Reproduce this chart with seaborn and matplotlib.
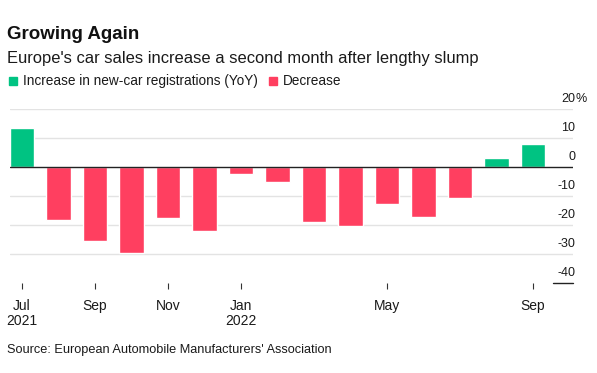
import matplotlib
matplotlib.use("Agg")
import matplotlib.pyplot as plt
from matplotlib.patches import Rectangle
import pandas as pd
import seaborn as sns

# YoY change in EU new-car registrations, Jul 2021 - Sep 2022
months = ["2021-07", "2021-08", "2021-09", "2021-10", "2021-11", "2021-12",
          "2022-01", "2022-02", "2022-03", "2022-04", "2022-05", "2022-06",
          "2022-07", "2022-08", "2022-09"]
values = [13.4, -18.2, -25.3, -29.4, -17.6, -21.9, -2.3, -5.2,
          -19.0, -20.1, -12.6, -17.0, -10.6, 3.2, 8.0]
tick_pos = [0, 2, 4, 6, 10, 14]
tick_labels = ["Jul\n2021", "Sep", "Nov", "Jan\n2022", "May", "Sep"]
y_grid = [20, 10, -10, -20, -30]
y_labels = [20, 10, 0, -10, -20, -30, -40]

GREEN = "#00c382"
RED = "#ff3f60"
TXT = "#1a1a1a"

df = pd.DataFrame({"month": months, "value": values})
df["sign"] = ["up" if v >= 0 else "down" for v in df["value"]]

sns.set_style("white")
plt.rcParams["font.family"] = ["Liberation Sans", "DejaVu Sans"]

W, H = 597, 373
fig = plt.figure(figsize=(W / 100, H / 100), dpi=100)
ax = fig.add_axes([10 / W, 1 - 283.3 / H, 563 / W, 174 / H])

sns.barplot(data=df, x="month", y="value", hue="sign",
            palette={"up": GREEN, "down": RED}, dodge=False,
            width=0.67, legend=False, ax=ax, saturation=1)

for v in y_grid:
    ax.axhline(v, color="#e3e3e3", lw=1, zorder=0)
ax.axhline(0, color="#222222", lw=1, zorder=3)
ax.axhline(-40, xmin=(553 - 10) / 563, xmax=1.0, color="#222222", lw=1,
           clip_on=False)

ax.set_xlim(-0.33, 15.1)
ax.set_ylim(-40, 20)
ax.set_yticks([])
ax.set_xticks(tick_pos)
ax.set_xticklabels(tick_labels, fontsize=10, color=TXT, linespacing=1.15)
ax.tick_params(axis="x", length=4, width=0.8, color="#333333", pad=7,
               direction="out", bottom=True)
ax.set_xlabel("")
ax.set_ylabel("")
for s in ax.spines.values():
    s.set_visible(False)

ytr = ax.get_yaxis_transform()
for v in y_labels:
    ax.text(1.0036, v + 2.6, str(v), transform=ytr, ha="right",
            va="baseline", fontsize=9, color=TXT, clip_on=False)
ax.text(1.0036, 20 + 2.6, "%", transform=ytr, ha="left",
        va="baseline", fontsize=9, color=TXT, clip_on=False)

fig.text(7 / W, 1 - 39 / H, "Growing Again", fontsize=13.5, weight="bold",
         color="#111111", va="baseline")
fig.text(7 / W, 1 - 62.7 / H,
         "Europe's car sales increase a second month after lengthy slump",
         fontsize=11.9, color=TXT, va="baseline")

# legend
fig.patches.append(Rectangle((9.3 / W, 1 - 85 / H), 8 / W, 8 / H,
                             color=GREEN, transform=fig.transFigure))
fig.text(23 / W, 1 - 85 / H, "Increase in new-car registrations (YoY)",
         fontsize=9.8, color=TXT, va="baseline")
fig.patches.append(Rectangle((269 / W, 1 - 85 / H), 8 / W, 8 / H,
                             color=RED, transform=fig.transFigure))
fig.text(283 / W, 1 - 85 / H, "Decrease", fontsize=9.8, color=TXT,
         va="baseline")

fig.text(7 / W, 1 - 352.7 / H,
         "Source: European Automobile Manufacturers' Association",
         fontsize=9.2, color=TXT, va="baseline")

fig.savefig("out.png", dpi=100)
